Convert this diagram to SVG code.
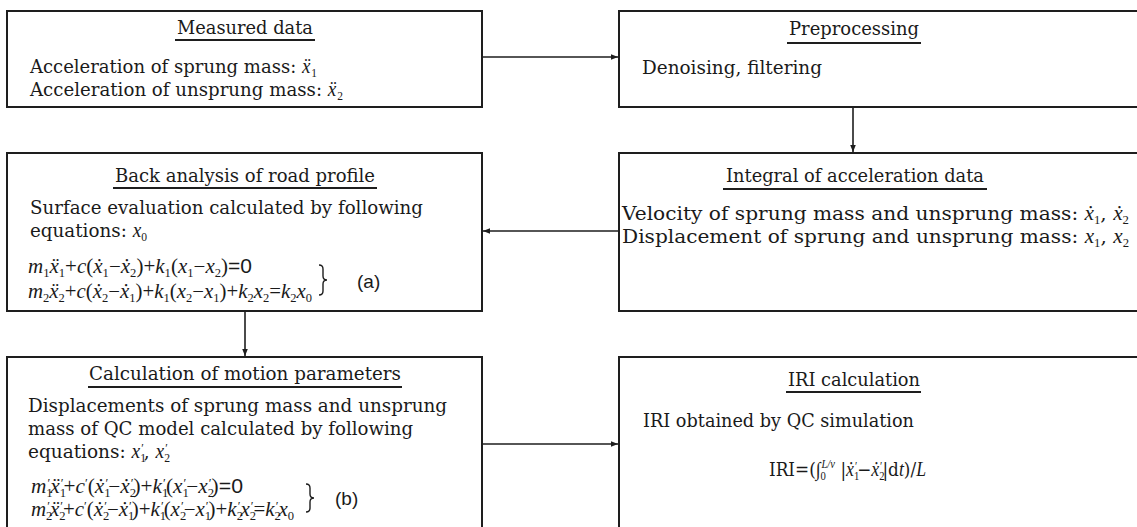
<svg xmlns="http://www.w3.org/2000/svg" width="1137" height="527" viewBox="0 0 1137 527">
<defs>
<style>
.box{fill:#fff;stroke:#1e1e1e;stroke-width:2}
.t{font-family:"DejaVu Serif","Liberation Serif",serif;font-size:19px;fill:#1a1a1a}
.ttl{text-anchor:middle}
.ul{stroke:#1e1e1e;stroke-width:2}
.eq{font-family:"Liberation Serif","DejaVu Serif",serif;font-size:20px;font-style:italic;fill:#1a1a1a}
.i{font-family:"Liberation Serif",serif;font-style:italic;font-size:20px}
.up{font-style:normal}
.s{font-family:"Liberation Serif",serif;font-size:12px;font-style:normal}
.p{font-family:"Liberation Serif",serif;font-size:12px;font-style:normal}
.sans{font-family:"Liberation Sans",Arial,sans-serif;font-style:normal}
.lbl{font-family:"Liberation Sans",Arial,sans-serif;font-size:19px;fill:#1a1a1a}
.conn{stroke:#1e1e1e;stroke-width:1.6;fill:none}
.brace{stroke:#1e1e1e;stroke-width:1.4;fill:none}
</style>
<marker id="ah" viewBox="0 0 10 10" refX="10" refY="5" markerWidth="7" markerHeight="7" markerUnits="userSpaceOnUse" orient="auto">
<path d="M0,1 L10,5 L0,9 z" fill="#1e1e1e"/>
</marker>
</defs>
<rect width="1137" height="527" fill="#fff"/>

<g id="connectors">
<line class="conn" x1="482" y1="57" x2="618" y2="57" marker-end="url(#ah)"/>
<line class="conn" x1="853" y1="107" x2="853" y2="152" marker-end="url(#ah)"/>
<line class="conn" x1="619" y1="231" x2="483" y2="231" marker-end="url(#ah)"/>
<line class="conn" x1="245" y1="311" x2="245" y2="356" marker-end="url(#ah)"/>
<line class="conn" x1="482" y1="444" x2="618" y2="444" marker-end="url(#ah)"/>
</g>

<g id="measured">
<rect class="box" x="7" y="11" width="475" height="96"/>
<text class="t ttl" x="245" y="34" textLength="136" lengthAdjust="spacingAndGlyphs">Measured data</text>
<line class="ul" x1="175" y1="40" x2="315" y2="40"/>
<text class="t" x="30" y="73" textLength="287" lengthAdjust="spacingAndGlyphs">Acceleration of sprung mass: <tspan class="i">ẍ</tspan><tspan class="s" baseline-shift="-4" dx="1">1</tspan></text>
<text class="t" x="30" y="96" textLength="313" lengthAdjust="spacingAndGlyphs">Acceleration of unsprung mass: <tspan class="i">ẍ</tspan><tspan class="s" baseline-shift="-4" dx="1">2</tspan></text>
</g>

<g id="preprocessing">
<rect class="box" x="619" y="11" width="530" height="96"/>
<text class="t ttl" x="854" y="35" textLength="130" lengthAdjust="spacingAndGlyphs">Preprocessing</text>
<line class="ul" x1="787" y1="43" x2="921" y2="43"/>
<text class="t" x="642" y="74" textLength="180" lengthAdjust="spacingAndGlyphs">Denoising, filtering</text>
</g>

<g id="integral">
<rect class="box" x="619" y="153" width="530" height="158"/>
<text class="t ttl" x="855" y="182" textLength="258" lengthAdjust="spacingAndGlyphs">Integral of acceleration data</text>
<line class="ul" x1="723" y1="189" x2="987" y2="189"/>
<text class="t" x="622" y="220" textLength="507" lengthAdjust="spacingAndGlyphs">Velocity of sprung mass and unsprung mass: <tspan class="i">ẋ</tspan><tspan class="s" baseline-shift="-4">1</tspan>, <tspan class="i">ẋ</tspan><tspan class="s" baseline-shift="-4">2</tspan></text>
<text class="t" x="622" y="243" textLength="507" lengthAdjust="spacingAndGlyphs">Displacement of sprung and unsprung mass: <tspan class="i">x</tspan><tspan class="s" baseline-shift="-4">1</tspan>, <tspan class="i">x</tspan><tspan class="s" baseline-shift="-4">2</tspan></text>
</g>

<g id="back-analysis">
<rect class="box" x="7" y="153" width="475" height="158"/>
<text class="t ttl" x="245" y="182" textLength="260" lengthAdjust="spacingAndGlyphs">Back analysis of road profile</text>
<line class="ul" x1="113" y1="188" x2="377" y2="188"/>
<text class="t" x="30" y="214" textLength="393" lengthAdjust="spacingAndGlyphs">Surface evaluation calculated by following</text>
<text class="t" x="30" y="237" textLength="117" lengthAdjust="spacingAndGlyphs">equations: <tspan class="i">x</tspan><tspan class="s" baseline-shift="-4">0</tspan></text>
<text class="eq" x="28" y="273" textLength="224" lengthAdjust="spacingAndGlyphs">m<tspan class="s" baseline-shift="-4">1</tspan>ẍ<tspan class="s" baseline-shift="-4">1</tspan><tspan class="up">+</tspan>c<tspan class="up">(</tspan>ẋ<tspan class="s" baseline-shift="-4">1</tspan><tspan class="up">−</tspan>ẋ<tspan class="s" baseline-shift="-4">2</tspan><tspan class="up">)+</tspan>k<tspan class="s" baseline-shift="-4">1</tspan><tspan class="up">(</tspan>x<tspan class="s" baseline-shift="-4">1</tspan><tspan class="up">−</tspan>x<tspan class="s" baseline-shift="-4">2</tspan><tspan class="up">)</tspan><tspan class="sans">=0</tspan></text>
<text class="eq" x="28" y="298" textLength="284" lengthAdjust="spacingAndGlyphs">m<tspan class="s" baseline-shift="-4">2</tspan>ẍ<tspan class="s" baseline-shift="-4">2</tspan><tspan class="up">+</tspan>c<tspan class="up">(</tspan>ẋ<tspan class="s" baseline-shift="-4">2</tspan><tspan class="up">−</tspan>ẋ<tspan class="s" baseline-shift="-4">1</tspan><tspan class="up">)+</tspan>k<tspan class="s" baseline-shift="-4">1</tspan><tspan class="up">(</tspan>x<tspan class="s" baseline-shift="-4">2</tspan><tspan class="up">−</tspan>x<tspan class="s" baseline-shift="-4">1</tspan><tspan class="up">)+</tspan>k<tspan class="s" baseline-shift="-4">2</tspan>x<tspan class="s" baseline-shift="-4">2</tspan><tspan class="up">=</tspan>k<tspan class="s" baseline-shift="-4">2</tspan>x<tspan class="s" baseline-shift="-4">0</tspan></text>
<path class="brace" d="M319,265 q4,0 4,4 v7 q0,4 4,4 q-4,0 -4,4 v7 q0,4 -4,4"/>
<text class="lbl" x="357" y="288">(a)</text>
</g>

<g id="calc-motion">
<rect class="box" x="7" y="357" width="475" height="200"/>
<text class="t ttl" x="245" y="380" textLength="312" lengthAdjust="spacingAndGlyphs">Calculation of motion parameters</text>
<line class="ul" x1="88" y1="387" x2="402" y2="387"/>
<text class="t" x="28" y="412" textLength="419" lengthAdjust="spacingAndGlyphs">Displacements of sprung mass and unsprung</text>
<text class="t" x="28" y="435" textLength="385" lengthAdjust="spacingAndGlyphs">mass of QC model calculated by following</text>
<text class="t" x="28" y="458" textLength="142" lengthAdjust="spacingAndGlyphs">equations: <tspan class="i">x</tspan><tspan class="s" baseline-shift="-4">1</tspan><tspan class="p" dx="-5" baseline-shift="6">′</tspan>, <tspan class="i">x</tspan><tspan class="s" baseline-shift="-4">2</tspan><tspan class="p" dx="-5" baseline-shift="6">′</tspan></text>
<text class="eq" x="31" y="493" textLength="212" lengthAdjust="spacingAndGlyphs">m<tspan class="s" baseline-shift="-4">1</tspan><tspan class="p" dx="-5" baseline-shift="6">′</tspan>ẍ<tspan class="s" baseline-shift="-4">1</tspan><tspan class="p" dx="-5" baseline-shift="6">′</tspan><tspan class="up">+</tspan>c<tspan class="p" baseline-shift="6">′</tspan><tspan class="up">(</tspan>ẋ<tspan class="s" baseline-shift="-4">1</tspan><tspan class="p" dx="-5" baseline-shift="6">′</tspan><tspan class="up">−</tspan>ẋ<tspan class="s" baseline-shift="-4">2</tspan><tspan class="p" dx="-5" baseline-shift="6">′</tspan><tspan class="up">)+</tspan>k<tspan class="s" baseline-shift="-4">1</tspan><tspan class="p" dx="-5" baseline-shift="6">′</tspan><tspan class="up">(</tspan>x<tspan class="s" baseline-shift="-4">1</tspan><tspan class="p" dx="-5" baseline-shift="6">′</tspan><tspan class="up">−</tspan>x<tspan class="s" baseline-shift="-4">2</tspan><tspan class="p" dx="-5" baseline-shift="6">′</tspan><tspan class="up">)</tspan><tspan class="sans">=0</tspan></text>
<text class="eq" x="31" y="516" textLength="263" lengthAdjust="spacingAndGlyphs">m<tspan class="s" baseline-shift="-4">2</tspan><tspan class="p" dx="-5" baseline-shift="6">′</tspan>ẍ<tspan class="s" baseline-shift="-4">2</tspan><tspan class="p" dx="-5" baseline-shift="6">′</tspan><tspan class="up">+</tspan>c<tspan class="p" baseline-shift="6">′</tspan><tspan class="up">(</tspan>ẋ<tspan class="s" baseline-shift="-4">2</tspan><tspan class="p" dx="-5" baseline-shift="6">′</tspan><tspan class="up">−</tspan>ẋ<tspan class="s" baseline-shift="-4">1</tspan><tspan class="p" dx="-5" baseline-shift="6">′</tspan><tspan class="up">)+</tspan>k<tspan class="s" baseline-shift="-4">1</tspan><tspan class="p" dx="-5" baseline-shift="6">′</tspan><tspan class="up">(</tspan>x<tspan class="s" baseline-shift="-4">2</tspan><tspan class="p" dx="-5" baseline-shift="6">′</tspan><tspan class="up">−</tspan>x<tspan class="s" baseline-shift="-4">1</tspan><tspan class="p" dx="-5" baseline-shift="6">′</tspan><tspan class="up">)+</tspan>k<tspan class="s" baseline-shift="-4">2</tspan><tspan class="p" dx="-5" baseline-shift="6">′</tspan>x<tspan class="s" baseline-shift="-4">2</tspan><tspan class="p" dx="-5" baseline-shift="6">′</tspan><tspan class="up">=</tspan>k<tspan class="s" baseline-shift="-4">2</tspan><tspan class="p" dx="-5" baseline-shift="6">′</tspan>x<tspan class="s" baseline-shift="-4">0</tspan></text>
<path class="brace" d="M306,484 q4,0 4,4 v6 q0,4 4,4 q-4,0 -4,4 v6 q0,4 -4,4"/>
<text class="lbl" x="335" y="505">(b)</text>
</g>

<g id="iri">
<rect class="box" x="619" y="357" width="530" height="200"/>
<text class="t ttl" x="854" y="386" textLength="132" lengthAdjust="spacingAndGlyphs">IRI calculation</text>
<line class="ul" x1="786" y1="392" x2="921" y2="392"/>
<text class="t" x="643" y="427" textLength="271" lengthAdjust="spacingAndGlyphs">IRI obtained by QC simulation</text>
<text class="t" x="769" y="476" textLength="157" lengthAdjust="spacingAndGlyphs">IRI=(<tspan class="i">∫</tspan><tspan class="s" baseline-shift="-4">0</tspan><tspan class="s" dx="-5" baseline-shift="8" style="font-style:italic">L/v</tspan> |<tspan class="i">ẋ</tspan><tspan class="s" baseline-shift="-4">1</tspan><tspan class="p" dx="-5" baseline-shift="6">′</tspan>−<tspan class="i">ẋ</tspan><tspan class="s" baseline-shift="-4">2</tspan><tspan class="p" dx="-5" baseline-shift="6">′</tspan>|d<tspan class="i">t</tspan>)/<tspan class="i">L</tspan></text>
</g>
</svg>
